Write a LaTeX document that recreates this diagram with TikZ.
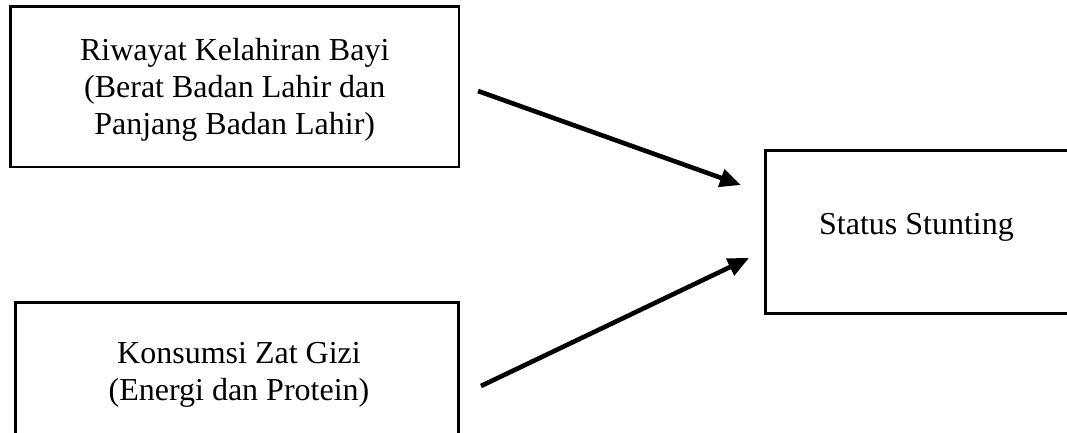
\documentclass[tikz,border=0pt]{standalone}
\usepackage{fontspec}
\setmainfont{Liberation Serif}
\usetikzlibrary{arrows.meta}
\tikzset{
  box/.style={draw=black, line width=2.6pt, inner sep=0pt, fill=none},
  lbl/.style={font=\fontsize{32}{37}\selectfont, align=center, inner sep=0pt},
  arr/.style={line width=4.6pt, -{Triangle[length=21pt,width=18pt]}}
}
\begin{document}
\begin{tikzpicture}[x=1pt,y=-1pt]
\useasboundingbox (0,0) rectangle (1067,432);
\clip (0,0) rectangle (1067,432);
% boxes
\node[box, minimum width=448.5pt, minimum height=160.5pt] (b1) at (234.75,86.75) {};
\node[box, minimum width=443.4pt, minimum height=140pt] (b2) at (237,372.3) {};
\node[box, minimum width=310pt, minimum height=162.8pt] (b3) at (920.7,231.9) {};
% texts
\node[lbl] (t1) at (234.75,90) {Riwayat Kelahiran Bayi\\(Berat Badan Lahir dan\\Panjang Badan Lahir)};
\node[lbl] (t2) at (239,375) {Konsumsi Zat Gizi\\(Energi dan Protein)};
\node[lbl, anchor=base] (t3) at (916.5,234) {Status Stunting};
% arrow ends
\coordinate (a1s) at (478,91);
\coordinate (a1e) at (741,185);
\coordinate (a2s) at (481,386);
\coordinate (a2e) at (749,258);
\draw[arr] (a1s) -- (a1e);
\draw[arr] (a2s) -- (a2e);
\end{tikzpicture}
\end{document}
